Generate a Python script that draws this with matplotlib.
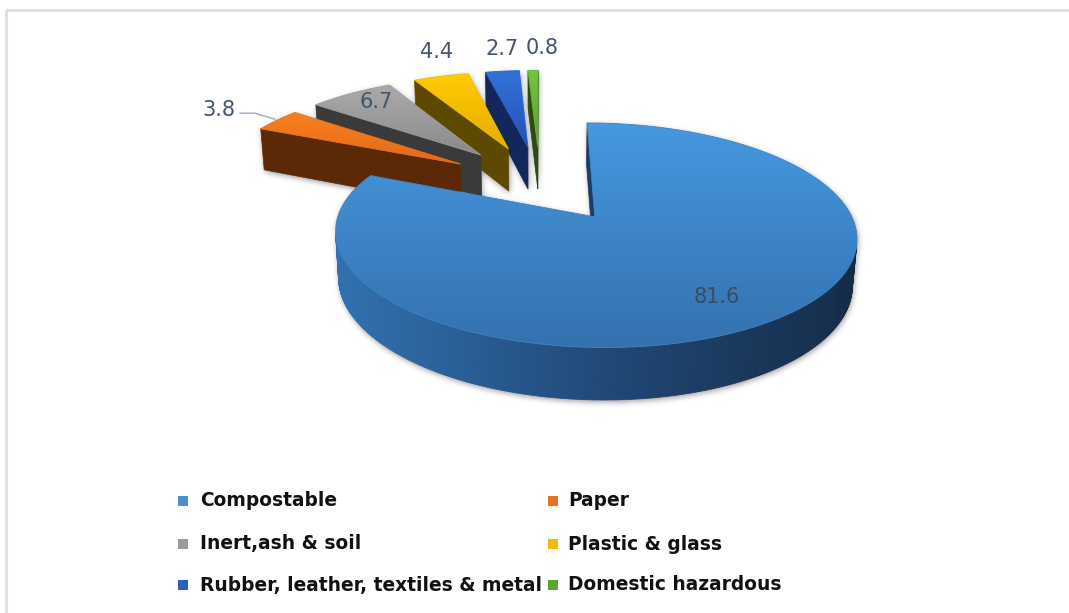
import numpy as np
import matplotlib.pyplot as plt
from matplotlib.patches import Polygon, Rectangle
from matplotlib.path import Path
from matplotlib.colors import LinearSegmentedColormap, to_rgb

categories = ['Compostable', 'Paper', 'Inert,ash & soil', 'Plastic & glass',
              'Rubber, leather, textiles & metal', 'Domestic hazardous']
values = [81.6, 3.8, 6.7, 4.4, 2.7, 0.8]

top_hi = ['#4698E0', '#F7811F', '#ABABAB', '#FFCC00', '#3372DA', '#78C63E']
top_lo = ['#3471AE', '#E2691A', '#8A8A8A', '#E6AC00', '#2351B4', '#52A02A']
side_col = ['#2F6EAD', '#5C2906', '#3A3A3A', '#5E4900', '#14275A', '#2C4B13']
legend_col = ['#4A8FD4', '#E8731E', '#9B9B9B', '#F2BE00', '#2E5DBD', '#5CA533']

W, H = 1069, 613

# simple perspective camera looking down on the pie
ELEV = np.radians(23.8)
DIST = 5.9
K = 1440
CX, CY = 540, 183
THICK = 0.2
EXPLODE = 0.39
SN, CS = np.sin(ELEV), np.cos(ELEV)
CAM = np.array([0.0, -DIST * CS, DIST * SN])


def depth(p):
    return p[1] * CS - p[2] * SN + DIST


def project(p):
    d = depth(p)
    up = p[1] * SN + p[2] * CS
    return CX + K * p[0] / d, CY - K * up / d


def visible(normal, p):
    return np.dot(normal, CAM - np.asarray(p)) > 0


fig = plt.figure(figsize=(W / 100, H / 100), dpi=100)
ax = fig.add_axes([0, 0, 1, 1])
ax.set_xlim(0, W)
ax.set_ylim(H, 0)
ax.axis('off')

ax.add_patch(Rectangle((5.5, 9.5), 1200, 800, fill=False,
                       edgecolor='#DDE0E8', lw=2.2, zorder=0))


def gradient_fill(pts, c_hi, c_lo, z):
    pts = np.asarray(pts)
    poly = Polygon(pts, closed=True, facecolor='none', edgecolor='none')
    ax.add_patch(poly)
    x0, y0 = pts.min(axis=0)
    x1, y1 = pts.max(axis=0)
    cmap = LinearSegmentedColormap.from_list('g', [c_hi, c_lo])
    grad = np.linspace(0, 1, 256).reshape(-1, 1)
    im = ax.imshow(grad, cmap=cmap, extent=(x0, x1, y1, y0), origin='upper',
                   aspect='auto', zorder=z, interpolation='bilinear')
    im.set_clip_path(poly)
    mid = 0.5 * (np.array(to_rgb(c_hi)) + np.array(to_rgb(c_lo)))
    ax.add_patch(Polygon(pts, closed=True, facecolor='none', edgecolor=mid,
                         lw=0.6, zorder=z + 0.01))


def mix(a, b, t):
    a, b = np.array(to_rgb(a)), np.array(to_rgb(b))
    return tuple(a + (b - a) * t)


fracs = np.array(values) / sum(values)
edges = np.concatenate([[0], np.cumsum(fracs)]) * 2 * np.pi

slices = []
for i, v in enumerate(values):
    t1, t2 = edges[i], edges[i + 1]
    mid = 0.5 * (t1 + t2)
    off = EXPLODE * np.array([np.sin(mid), np.cos(mid)])
    n = max(3, int((t2 - t1) / 0.01))
    arc = np.linspace(t1, t2, n)
    cen = np.array([off[0] + 0.5 * np.sin(mid), off[1] + 0.5 * np.cos(mid), 0])
    slices.append(dict(i=i, t1=t1, t2=t2, mid=mid, off=off, arc=arc,
                       key=depth(cen)))

gx, gy = np.meshgrid(np.arange(W) + 0.5, np.arange(H) + 0.5)
grid_pts = np.column_stack([gx.ravel(), gy.ravel()])
shadow_mask = np.zeros(W * H, dtype=bool)

z = 1
label_anchor = {}
for sl in sorted(slices, key=lambda s: -s['key']):
    i, t1, t2, off, arc = sl['i'], sl['t1'], sl['t2'], sl['off'], sl['arc']
    ox, oy = off
    apex_t = (ox, oy, 0.0)
    apex_b = (ox, oy, -THICK)

    def rim(a, zz):
        return (ox + np.sin(a), oy + np.cos(a), zz)

    faces = []
    # outer wall
    wall_pts = [project(rim(a, 0)) for a in arc]
    xs = [p[0] for p in wall_pts]
    for j in range(len(arc) - 1):
        am = 0.5 * (arc[j] + arc[j + 1])
        nrm = np.array([np.sin(am), np.cos(am), 0])
        if not visible(nrm, rim(am, -THICK / 2)):
            continue
        quad = [project(rim(arc[j], 0)), project(rim(arc[j + 1], 0)),
                project(rim(arc[j + 1], -THICK)), project(rim(arc[j], -THICK))]
        sx = project(rim(am, 0))[0]
        t = (sx - 330) / (860 - 330)
        if i == 0:
            col = mix('#3172B2', '#1F4674', min(t / 0.55, 1)) if t < 0.55 \
                else mix('#1F4674', '#142B46', (t - 0.55) / 0.45)
        else:
            col = side_col[i]
        faces.append((depth(rim(am, -THICK / 2)), quad, col))
    # radial faces
    for ang, nrm in ((t1, np.array([-np.cos(t1), np.sin(t1), 0])),
                     (t2, np.array([np.cos(t2), -np.sin(t2), 0]))):
        pc = (ox + 0.5 * np.sin(ang), oy + 0.5 * np.cos(ang), -THICK / 2)
        if not visible(nrm, pc):
            continue
        quad = [project(apex_t), project(rim(ang, 0)),
                project(rim(ang, -THICK)), project(apex_b)]
        col = '#1B3C63' if i == 0 else side_col[i]
        faces.append((depth(pc), quad, col))

    top = [project(apex_t)] + wall_pts
    bottom = [project(apex_b)] + [project(rim(a, -THICK)) for a in arc]
    for poly in [top, bottom] + [f[1] for f in faces]:
        shadow_mask |= Path(poly).contains_points(grid_pts)

    for _, quad, col in sorted(faces, key=lambda f: -f[0]):
        ax.add_patch(Polygon(quad, closed=True, facecolor=col, edgecolor=col,
                             lw=0.5, zorder=z))
    z += 1
    gradient_fill(top, top_hi[i], top_lo[i], z)
    z += 1

    ys = [p[1] for p in wall_pts]
    label_anchor[i] = dict(arc_x=np.mean(xs), arc_y=min(ys),
                           mid=project(rim(sl['mid'], 0)), off=off,
                           dirv=np.array([np.sin(sl['mid']), np.cos(sl['mid'])]))

# soft drop shadow behind every slice
shade = shadow_mask.reshape(H, W).astype(float)
shade = np.roll(shade, (2, 1), axis=(0, 1))
r = 8
kern = np.exp(-0.5 * (np.arange(-r, r + 1) / 3.0) ** 2)
kern /= kern.sum()
for axis in (0, 1):
    acc = np.zeros_like(shade)
    for k, w in zip(range(-r, r + 1), kern):
        acc += w * np.roll(shade, k, axis=axis)
    shade = acc
rgba = np.zeros((H, W, 4))
rgba[..., 3] = 0.4 * shade
ax.imshow(rgba, extent=(0, W, H, 0), origin='upper', aspect='auto',
          zorder=0.5, interpolation='nearest')

# data labels
lab_kw = dict(fontsize=15, color='#44546A', zorder=50, va='center')
for i, v in enumerate(values):
    a = label_anchor[i]
    txt = f'{v:.1f}'
    if i == 0:
        p = a['off'] + 0.75 * a['dirv']
        x, y = project((p[0], p[1], 0))
        ax.text(x - 2, y + 4, txt, ha='center', **{**lab_kw, 'color': '#3E4B5E'})
    elif i == 2:
        p = a['off'] + 0.85 * a['dirv']
        x, y = project((p[0], p[1], 0))
        ax.text(x + 8, y, txt, ha='center', **lab_kw)
    elif i == 1:
        mx, my = a['mid']
        ax.plot([mx - 37, mx - 22, mx - 2], [my - 7, my - 7, my - 1],
                color='#A9B6C8', lw=1.2, zorder=49, solid_capstyle='round')
        ax.text(mx - 41, my - 10, txt, ha='right', **lab_kw)
    else:
        nudge = 9 if i == 5 else 0
        ax.text(a['arc_x'] + nudge - (5 if i == 3 else 0), a['arc_y'] - 22,
                txt, ha='center', **lab_kw)

# legend
rows = [501, 544, 585]
cols = [(178, 200), (548, 568)]
for i, name in enumerate(categories):
    (mx, tx), y = cols[i % 2], rows[i // 2]
    ax.add_patch(Rectangle((mx, y - 5), 10, 10, facecolor=legend_col[i],
                           edgecolor='none', zorder=60))
    ax.text(tx, y, name, fontsize=13.4, fontweight='bold', color='#111111',
            va='center', ha='left', zorder=60)

ax.set_xlim(0, W)
ax.set_ylim(H, 0)
fig.savefig('out.png', dpi=100)
